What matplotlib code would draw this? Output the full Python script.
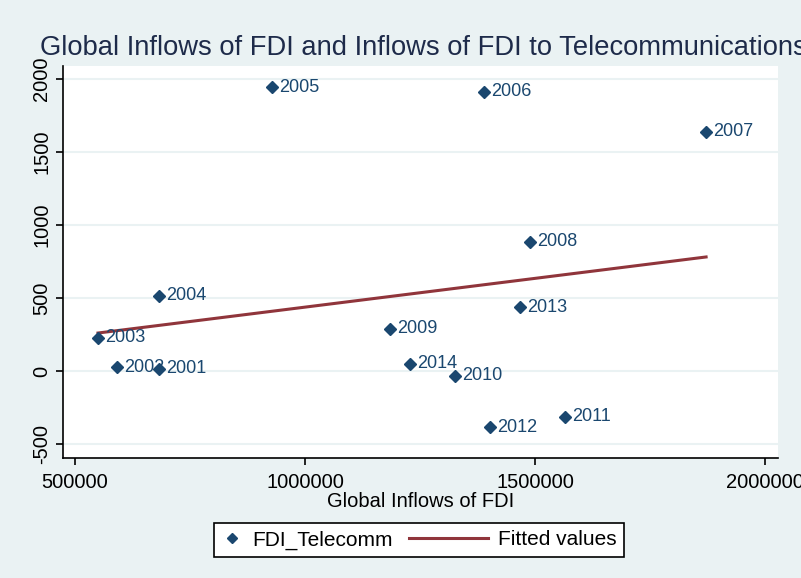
import numpy as np
import matplotlib
matplotlib.use('Agg')
import matplotlib.pyplot as plt
from matplotlib.lines import Line2D
from matplotlib.legend_handler import HandlerBase

plt.rcParams['font.family'] = ['Liberation Sans', 'DejaVu Sans']

# data
years = ['2001', '2002', '2003', '2004', '2005', '2006', '2007',
         '2008', '2009', '2010', '2011', '2012', '2013', '2014']
global_fdi = [682600, 591300, 550000, 682600, 928000, 1389000, 1871700,
              1489000, 1184800, 1326000, 1565000, 1402000, 1467400, 1228000]
fdi_telecomm = [14, 27, 226, 514, 1945, 1911, 1637,
                884, 288, -34, -315, -384, 438, 48]

# fitted line, read at the smallest and largest global inflow
fit_x = [550000, 1871700]
fit_y = [260, 781]

xticks = [500000, 1000000, 1500000, 2000000]
yticks = [-500, 0, 500, 1000, 1500, 2000]

bg = '#eaf2f3'
navy = '#1a476f'
maroon = '#90353b'


class LongLineHandler(HandlerBase):
    # legend line that reaches further left than the (short) handle box
    def create_artists(self, legend, orig_handle, xdescent, ydescent,
                       width, height, fontsize, trans):
        y = height / 2 - ydescent
        ln = Line2D([-xdescent - 42, -xdescent + width], [y, y],
                    color=orig_handle.get_color(), lw=orig_handle.get_linewidth())
        ln.set_transform(trans)
        return [ln]


fig = plt.figure(figsize=(8.01, 5.78), dpi=100, facecolor=bg)
ax = fig.add_axes([63 / 801, 1 - 458 / 578, 715 / 801, 392 / 578])
ax.set_facecolor('white')

for yt in yticks:
    ax.axhline(yt, color=bg, lw=1.5, zorder=0)

ax.plot(fit_x, fit_y, color=maroon, lw=2.2, zorder=2)
ax.plot(global_fdi, fdi_telecomm, 'D', color=navy, markersize=6.5, zorder=3,
        linestyle='none')
for xi, yi, lab in zip(global_fdi, fdi_telecomm, years):
    ax.annotate(lab, (xi, yi), xytext=(5, 0), textcoords='offset points',
                va='center', ha='left', fontsize=13, color=navy, zorder=4)

ax.set_xlim(473900, 2028000)
ax.set_ylim(-596, 2089)
ax.set_xticks(xticks)
ax.set_xticklabels([str(t) for t in xticks], fontsize=14.5)
ax.set_yticks(yticks)
ax.set_yticklabels([str(t) for t in yticks], fontsize=14.5, rotation=90, va='center')
ax.tick_params(axis='x', pad=6)
ax.tick_params(direction='out', length=5, width=1.2, color='black')

for s in ['top', 'right']:
    ax.spines[s].set_visible(False)
for s in ['left', 'bottom']:
    ax.spines[s].set_linewidth(1.2)
    ax.spines[s].set_color('black')

ax.set_xlabel('Global Inflows of FDI', fontsize=14.5, labelpad=0)

fig.text(40 / 801, 1 - 55 / 578,
         'Global Inflows of FDI and Inflows of FDI to Telecommunications',
         fontsize=19.7, va='baseline', ha='left', color='#1e2b4a')

handles = [Line2D([], [], marker='D', color=navy, linestyle='none', markersize=5),
           Line2D([], [], color=maroon, lw=2.2)]
leg = fig.legend(handles, ['FDI_Telecomm', 'Fitted values'], ncol=2,
                 loc='center', bbox_to_anchor=(419 / 801, 1 - 540 / 578),
                 fontsize=15, frameon=True, fancybox=False, framealpha=1,
                 facecolor='white', edgecolor='black', handlelength=1.0,
                 handletextpad=0.5, columnspacing=3.55, borderpad=0.35,
                 borderaxespad=0, handler_map={handles[1]: LongLineHandler()})
leg.get_frame().set_linewidth(1.2)

fig.savefig('out.png', dpi=100, facecolor=bg)
